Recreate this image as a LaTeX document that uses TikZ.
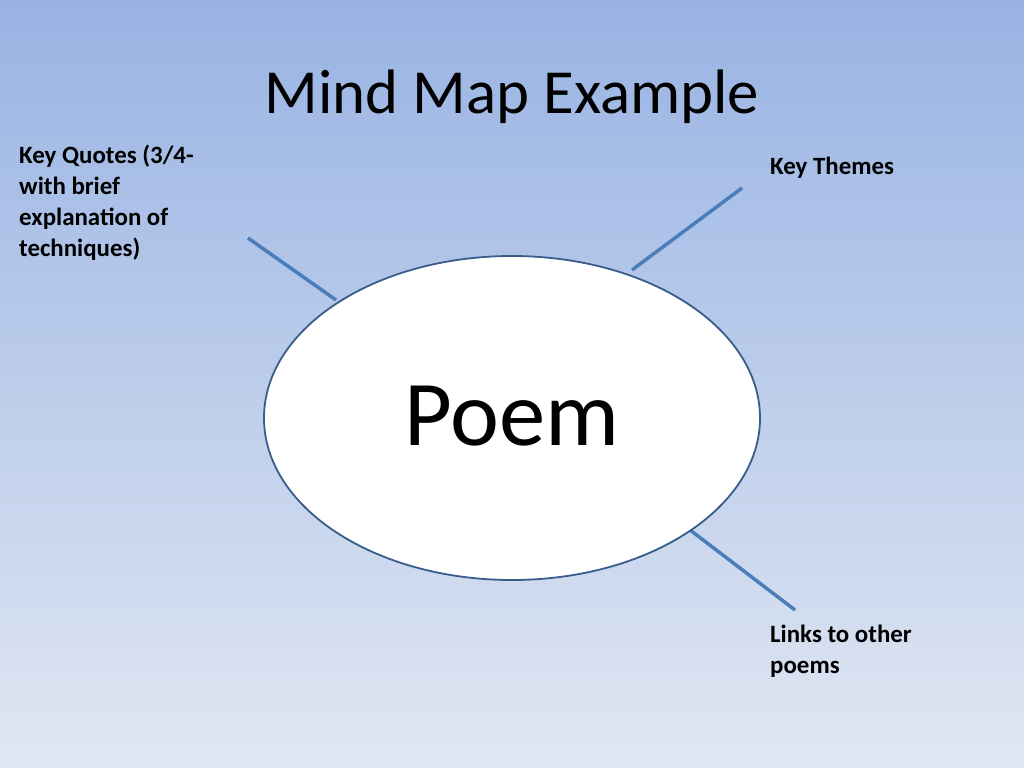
\documentclass[tikz,border=0pt]{standalone}
\usepackage{fontspec}
\setmainfont{Carlito}
\usetikzlibrary{shapes.geometric}
\definecolor{bgtop}{HTML}{98B3E3}
\definecolor{bgbot}{HTML}{E1E7F3}
\definecolor{linecol}{HTML}{4A7EBB}
\definecolor{edgecol}{HTML}{385D8A}
\tikzset{
  branch/.style={draw=linecol,line width=3.5bp},
  lbl/.style={anchor=north west,align=left,inner sep=0pt,font=\fontsize{25}{31}\selectfont\bfseries}
}
\begin{document}
\begin{tikzpicture}[x=1bp,y=-1bp]
\shade[top color=bgtop,bottom color=bgbot] (0,0) rectangle (1024,768);
\useasboundingbox (0,0) rectangle (1024,768);
\node (title) at (512,97) {\fontsize{63}{70}\selectfont Mind Map Example};
\coordinate (kq) at (248,238);
\coordinate (kt) at (742,188);
\coordinate (lk) at (795,610);
\draw[branch] (kq) -- (336,300) coordinate (kqe);
\draw[branch] (kt) -- (632,270);
\draw[branch] (lk) -- (690,530);
\node[ellipse,draw=edgecol,line width=1.8bp,fill=white,minimum width=496bp,minimum height=324bp] (poem) at (512,418) {};
\node at (poem.center) [yshift=2bp] {\fontsize{93}{100}\selectfont Poem};
\node[lbl] (kqt) at (19,145) {Key Quotes (3/4-\\with brief\\explanation of\\techniques)};
\node[lbl] (ktt) at (770,157) {Key Themes};
\node[lbl] (lkt) at (770,625) {Links to other\\poems};
\end{tikzpicture}
\end{document}
